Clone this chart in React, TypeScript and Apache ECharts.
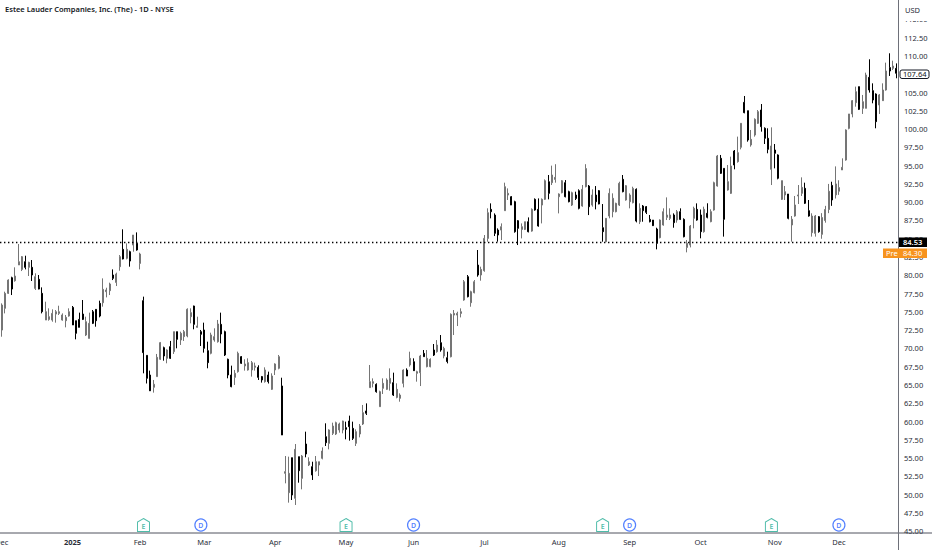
import React, { useEffect, useRef } from "react";
import * as echarts from "echarts";

const opens = [
72.51,75.48,77.53,79.67,79.26,81.41,80.81,81.86,81.09,81.09,
78.21,79.45,77.53,73.88,73.97,73.88,74.7,74.79,73.88,73.79,
74.43,75.61,73.79,73.97,74.7,71.83,71.37,75.02,75.34,76.16,
76.25,77.76,77.9,80.04,79.03,81.18,83.55,82.32,83.23,84.14,
84.37,81.63,76.53,69.05,66.36,64.68,66.14,68.51,70.1,68.64,
70.24,69.56,72.29,71.15,71.61,71.7,74.34,75.8,72.88,72.29,
72.52,69.69,69.33,71.15,70.92,73.29,72.29,68.51,66.36,66.04,
66.82,68.87,67.6,67.05,67.05,67.41,67.41,66.14,65.45,66.36,
64.4,67.05,67.28,64.86,52.91,50.26,55.05,49.49,55.19,52.22,
56.92,54.05,53.82,53.27,54.05,54.96,57.92,57.01,58.38,58.29,
58.84,58.84,59.16,60.07,59.06,57.01,58.29,59.66,61.44,64.63,
65.22,65.08,62.03,64.54,64.4,65.22,65.31,63.3,63.17,65.22,
67.04,67.73,68.18,66.59,66.68,69.32,67.5,67.5,69.78,69.55,
70.78,68.96,68.73,68.86,74.56,74.56,74.79,76.62,79.81,76.25,
77.62,81.4,80.04,80.63,85.05,89.02,88.24,86.19,86.19,88.84,
90.98,90.75,90.07,87.47,86.28,86.28,87.33,86.05,90.39,89.02,
89.61,90.39,92.8,92.67,93.12,90.75,91.3,92.67,91.44,89.61,
90.98,91.57,89.48,92.12,92.21,89.61,90.98,91.58,86.51,84.6,
88.11,88.7,88.7,89.61,93.13,90.3,90.07,89.93,91.76,87.33,
89.48,89.39,87.65,87.56,86.33,85.15,86.88,87.93,87.79,88.25,
87.56,88.7,87.65,83.82,84.14,87.79,89.02,88.25,85.97,88.48,
87.34,88.93,92.22,96.0,94.63,91.67,91.21,97.0,95.55,97.51,
103.66,102.52,97.83,99.19,100.79,102.61,100.11,98.74,94.5,97.14,
96.46,90.39,90.99,91.12,86.88,88.11,90.85,91.21,91.9,88.84,
85.83,85.74,88.02,85.6,87.5,89,92.3,91,91.5,94.41,
95.77,100.1,102.07,103.62,105.81,102.84,102.84,107.08,105.26,104.8,
103.3,103.89,105.35,108.41,108.31,108.31,
];

const closes = [
75.93,77.53,79.35,78.12,79.9,81.86,82.55,81.09,81.77,80.04,
79.81,78.12,75.02,75.02,74.34,74.79,75.02,75.02,74.57,74.25,
75.02,73.2,72.06,72.88,73.97,73.65,73.43,73.43,73.79,74.43,
78.08,77.99,78.81,79.58,80.18,82.55,82.23,83.55,81.95,85.51,
83.46,82.91,69.42,65.91,64.2,65.09,68.78,70.79,68.96,69.78,
68.64,72.29,71.24,72.06,72.29,75.35,74.89,73.29,73.07,71.93,
70.01,68.05,71.84,71.61,73.34,71.97,69.1,66.36,64.77,66.59,
69.33,67.96,67.87,68.05,68.05,67.6,66.04,65.68,67.05,65.45,
66.23,67.87,68.87,58.15,53.14,52.91,49.94,56.19,53.27,55.28,
55.55,54.5,52.68,54.5,54.5,55.96,57.1,58.84,59.38,59.84,
59.66,60.07,58.93,59.29,57.7,58.61,59.38,61.21,61.12,65.45,
65.45,64.08,64.08,65.22,65.68,65.9,63.62,64.4,63.62,67.04,
66.22,68.64,66.95,66.82,68.96,68.87,68.64,68.5,69.09,70.46,
69.78,70.0,68.2,74.66,74.79,74.79,75.02,79.12,77.07,77.76,
79.12,80.04,80.81,85.05,88.56,88.7,85.74,85.51,86.65,92.12,
91.21,89.61,85.96,86.42,86.65,87.33,85.96,89.02,88.93,86.74,
90.39,92.94,91.21,93.72,93.4,91.12,92.94,90.75,90.07,91.3,
90.52,89.16,91.76,94.6,89.38,90.98,90.07,89.75,85.97,87.79,
91.21,90.53,89.84,92.58,91.44,92.26,90.98,91.89,87.42,89.16,
88.84,88.61,87.33,86.79,84.37,87.56,88.7,88.25,88.25,87.2,
88.7,87.65,85.28,84.37,86.74,89.16,87.56,85.97,89.03,87.93,
88.71,92.67,96.32,93.95,87.66,92.81,94.95,95.09,96.78,100.79,
102.25,98.51,98.6,101.34,102.39,100.33,98.74,97.23,97.69,96.69,
93.27,92.95,91.44,87.79,87.66,89.62,90.99,92.03,89.85,88.11,
88.11,88.11,85.97,87.9,89,91.5,90.3,92.5,92,94.77,
99.88,102.07,103.89,105.12,102.7,103.75,107.4,105.35,103.98,101.02,
104.67,105.35,107.95,107.95,108.63,107.64,
];

const lows = [
71.6,74.79,77.44,77.3,79.13,81.41,80.58,80.81,79.9,79.22,
77.99,78.08,74.79,73.88,73.79,73.65,73.52,74.57,73.79,72.88,
74.34,73.2,71.24,72.88,73.88,71.69,71.37,73.33,72.97,74.25,
75.71,76.98,77.3,79.35,78.53,80.63,82.18,82.18,81.18,83.23,
83.37,80.81,66.59,65.2,64.17,63.95,66.14,68.42,68.32,67.96,
68.55,69.24,70.01,70.47,71.02,71.52,73.43,72.61,72.84,70.33,
69.42,67.28,69.19,70.92,70.79,70.7,68.96,65.91,64.68,65.0,
66.68,67.87,66.96,66.96,66.14,66.96,65.68,65.32,65.32,65.2,
64.31,66.36,67.14,58.15,51.54,48.9,49.26,48.58,51.63,50.72,
55.1,53.91,52.0,53.14,52.54,54.82,56.65,56.19,58.15,58.15,
58.47,58.38,57.56,57.38,57.47,56.65,57.83,59.52,60.89,64.63,
64.67,63.94,62.03,63.76,64.31,64.22,63.49,63.17,62.71,64.67,
66.22,67.5,66.91,65.45,64.85,68.87,67.41,67.41,68.96,69.41,
69.55,68.64,67.95,68.77,71.83,73.06,74.24,76.52,76.98,75.7,
77.53,79.81,79.26,80.49,84.6,87.79,85.37,84.6,84.82,88.84,
90.3,89.61,85.83,84.14,85.05,86.19,85.87,85.96,88.84,86.65,
87.1,90.3,90.39,92.35,92.67,88.47,91.21,90.66,89.98,89.48,
90.3,89.02,89.38,92.03,88.24,89.39,89.02,89.71,84.6,84.6,
87.79,87.93,88.61,89.48,91.35,90.21,89.16,89.84,87.24,87.01,
87.33,88.38,87.24,86.74,83.55,85.05,86.79,87.56,87.56,86.51,
87.2,87.56,85.19,83.14,83.82,86.42,87.47,85.06,85.83,87.79,
87.25,88.84,92.13,93.86,85.29,91.58,91.12,94.5,95.41,97.23,
102.16,98.28,97.6,98.97,100.7,99.65,97.96,96.69,92.35,94.63,
93.13,90.3,90.3,87.66,84.6,88.02,89.75,90.85,89.75,88.02,
85.29,85.29,85.83,85.0,87.2,88.5,89.5,90.5,91,94.41,
95.68,99.97,101.61,103.07,102.61,102.07,102.84,104.99,103.53,100.11,
102.07,103.85,105.26,107.27,108.09,106.95,
];

const highs = [
76.16,77.76,79.45,79.81,81.09,84.28,82.64,82.68,81.86,82.09,
80.27,80.04,78.35,76.39,75.48,75.34,75.25,75.84,74.79,74.57,
75.48,75.8,73.79,74.89,76.62,74.34,74.89,75.25,75.34,76.53,
79.58,78.3,78.99,80.81,80.36,82.77,86.29,84.37,83.37,85.51,
85.87,83.09,77.08,69.05,66.96,65.68,69.24,70.88,70.24,69.87,
71.02,72.29,72.29,72.29,72.52,75.48,75.48,75.85,74.34,72.52,
73.52,70.92,72.15,72.75,73.89,74.89,72.43,68.6,67.64,67.05,
69.56,68.96,68.51,68.64,68.28,68.05,67.69,66.23,67.41,66.82,
66.59,67.96,69.1,65.99,55.28,55.19,55.05,56.92,55.19,55.42,
58.61,55.1,54.5,55.28,54.5,56.46,59.75,58.93,59.84,59.98,
59.84,60.11,59.98,60.8,59.98,58.93,59.66,62.26,62.48,67.73,
65.9,65.22,64.22,65.9,65.9,67.27,66.68,65.22,63.85,67.14,
67.27,69.55,68.64,66.95,69.1,69.78,69.78,68.64,70.6,71.14,
71.83,70.23,69.55,74.79,75.25,75.02,75.48,79.35,80.04,77.89,
79.35,83.46,81.18,85.51,89.16,89.84,88.47,86.42,87.1,92.67,
91.89,90.84,90.2,87.56,87.1,87.33,87.92,89.16,90.52,90.52,
90.52,93.12,93.72,95.0,95.2,91.21,93.03,93.03,91.57,91.44,
91.44,91.76,92.35,95.2,92.35,91.76,92.21,91.67,89.75,87.79,
91.89,91.21,89.93,92.8,93.72,92.35,91.21,92.12,91.89,89.84,
89.61,89.48,88.25,87.56,86.51,87.65,89.16,90.66,89.16,88.47,
88.93,89.16,87.79,84.83,86.88,89.39,89.84,89.0,89.39,89.85,
89.03,92.81,96.46,96.46,94.63,95.09,96.23,97.14,98.97,100.79,
104.53,102.52,99.88,101.47,102.61,103.43,100.24,100.11,100.24,97.96,
96.55,92.95,92.22,91.12,88.11,90.85,92.35,93.4,92.67,90.3,
88.48,88.25,88.11,88.5,89.5,92.5,92.8,94.9,93,96.0,
99.97,102.07,103.98,105.81,105.81,104.67,107.72,109.55,106.26,104.89,
104.8,106.26,109.09,110.37,109.36,108.99,
];

const monthLabels = ["Dec", "2025", "Feb", "Mar", "Apr", "May", "Jun", "Jul", "Aug", "Sep", "Oct", "Nov", "Dec"];
const monthBars = [0, 21, 41, 60, 81, 102, 122, 143, 165, 186, 207, 229, 248];

const earningsBars = [42, 102, 178, 228];
const dividendBars = [59, 122, 186, 248];
const eventPrice = 45.84;

const lastClose = 107.64;
const prevClose = 84.53;
const preMarket = 84.3;
const symbolTitle = "Estee Lauder Companies, Inc. (The) - 1D - NYSE";

const UP = "#757575";
const DOWN = "#000000";
const TEXT = "#2a2e39";
const FONT = "'Noto Sans', sans-serif";
const HOUSE = "path://M6 0 L12 3.6 L12 13 L0 13 L0 3.6 Z";

export default function App() {
  const ref = useRef<HTMLDivElement>(null);
  useEffect(() => {
    const chart = echarts.init(ref.current!, null, { renderer: "svg", width: 932, height: 550 });
    const categories = opens.map((_, i) => {
      const m = monthBars.indexOf(i);
      return m >= 0 ? monthLabels[m] : "";
    });
    const tag = (x: number, y: number, w: number, h: number, fill: string, stroke?: string) => ({
      type: "rect",
      z: 100,
      shape: { x, y, width: w, height: h, r: stroke ? 2 : 0 },
      style: { fill, stroke: stroke ?? undefined, lineWidth: 1 },
    });
    const label = (x: number, y: number, text: string, fill: string, weight = 400) => ({
      type: "text",
      z: 101,
      x,
      y,
      style: { text, fill, font: `${weight} 7.5px ${FONT}`, textVerticalAlign: "middle", verticalAlign: "middle" },
    });
    chart.setOption({
      animation: false,
      backgroundColor: "#ffffff",
      title: {
        text: symbolTitle,
        left: 0,
        top: 0,
        textStyle: { fontFamily: FONT, fontSize: 7.5, fontWeight: 600, color: "#131722" },
      },
      grid: { left: 0, top: 19.45, width: 898, height: 511.7, outerBoundsMode: "none" },
      xAxis: {
        type: "category",
        data: categories,
        boundaryGap: true,
        axisLine: { show: false },
        axisTick: { show: false },
        splitLine: { show: false },
        axisLabel: {
          interval: 0,
          margin: 6.5,
          hideOverlap: false,
          fontFamily: FONT,
          fontSize: 7.5,
          color: TEXT,
          formatter: (v: string) => (v === "2025" ? `{b|${v}}` : v),
          rich: { b: { fontFamily: FONT, fontSize: 7.5, fontWeight: 700, color: TEXT } },
        },
      },
      yAxis: {
        type: "value",
        position: "right",
        min: 45,
        max: 115,
        interval: 2.5,
        axisLine: { show: false },
        axisTick: { show: false },
        splitLine: { show: false },
        axisLabel: {
          margin: 6,
          fontFamily: FONT,
          fontSize: 7.5,
          color: TEXT,
          formatter: (v: number) => v.toFixed(2),
        },
      },
      series: [
        {
          type: "candlestick",
          barWidth: 1.5,
          data: opens.map((o, i) => [o, closes[i], lows[i], highs[i]]),
          itemStyle: { color: UP, color0: DOWN, borderColor: UP, borderColor0: DOWN, borderWidth: 1 },
          markLine: {
            silent: true,
            symbol: "none",
            label: { show: false },
            lineStyle: { type: [1.4, 2.6], color: "#000000", width: 1.4 },
            data: [{ yAxis: prevClose }],
          },
        },
        {
          type: "scatter",
          symbol: HOUSE,
          symbolSize: [12, 13],
          data: earningsBars.map((b) => [b, eventPrice]),
          itemStyle: { color: "#ffffff", borderColor: "#22ab94", borderWidth: 1 },
          label: { show: true, position: "inside", formatter: "E", color: "#22ab94", fontSize: 7, fontWeight: 600, fontFamily: FONT, offset: [0, 1] },
        },
        {
          type: "scatter",
          symbol: "circle",
          symbolSize: 12,
          data: dividendBars.map((b) => [b, eventPrice]),
          itemStyle: { color: "#ffffff", borderColor: "#2962ff", borderWidth: 1.2 },
          label: { show: true, position: "inside", formatter: "D", color: "#2962ff", fontSize: 7, fontWeight: 600, fontFamily: FONT },
        },
      ],
      graphic: [
        { type: "line", z: 90, shape: { x1: 0, y1: 533, x2: 932, y2: 533 }, style: { stroke: "#50535e", lineWidth: 1 } },
        { type: "rect", z: 95, shape: { x: 899, y: 0, width: 33, height: 21 }, style: { fill: "#ffffff" } },
        { type: "line", z: 96, shape: { x1: 898.5, y1: 0, x2: 898.5, y2: 550 }, style: { stroke: "#6e7079", lineWidth: 1 } },
        label(905, 10, "USD", TEXT),
        tag(900, 70, 29, 8.5, "#ffffff", "#131722"),
        label(903, 74.4, lastClose.toFixed(2), "#131722"),
        tag(899, 237.5, 28, 9.5, "#000000"),
        label(903, 242.4, prevClose.toFixed(2), "#ffffff", 600),
        tag(883, 248.5, 16, 9.5, "#f7931e"),
        tag(899, 248.5, 28, 9.5, "#f7931e"),
        label(886, 253.4, "Pre", "#ffffff"),
        label(903, 253.4, preMarket.toFixed(2), "#ffffff"),
      ],
    });
    return () => chart.dispose();
  }, []);
  return <div ref={ref} style={{ position: "fixed", left: 0, top: 0, width: 932, height: 550, background: "#fff" }} />;
}
